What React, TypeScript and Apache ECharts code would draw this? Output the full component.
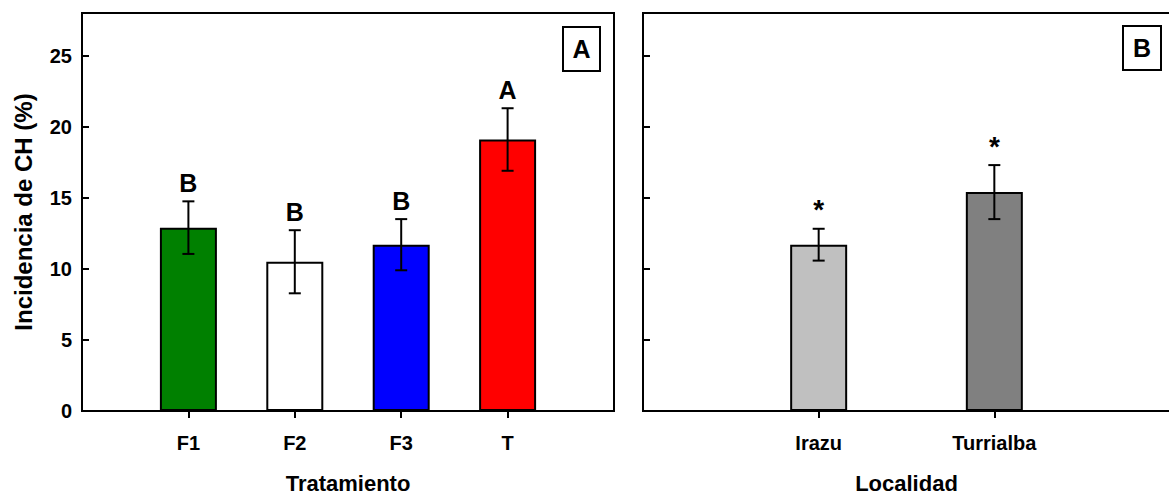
import React, { useEffect, useRef } from "react";
import * as echarts from "echarts";

// Panel A data
const treatments = ["F1", "F2", "F3", "T"];
const treatmentMeans = [12.9, 10.5, 11.7, 19.1];
const treatmentErrors = [1.85, 2.22, 1.8, 2.2];
const treatmentLetters = ["B", "B", "B", "A"];
const treatmentColors = ["#008000", "#ffffff", "#0000ff", "#ff0000"];

// Panel B data
const localities = ["Irazu", "Turrialba"];
const localityMeans = [11.7, 15.4];
const localityErrors = [1.12, 1.9];
const localityLetters = ["*", "*"];
const localityColors = ["#c0c0c0", "#808080"];

const yTicks = [0, 5, 10, 15, 20, 25];
const yMax = 28;

const FONT = "Liberation Sans, Arial, Helvetica, sans-serif";

function padCats(c: string[]) {
  return ["", ...c, ""];
}

function errorSeries(xAxisIndex: number, yAxisIndex: number, means: number[], errs: number[], letters: string[]) {
  return {
    type: "custom",
    xAxisIndex,
    yAxisIndex,
    silent: true,
    z: 5,
    data: means.map((m, i) => [i + 1, m, errs[i]]),
    renderItem: (params: any, api: any) => {
      const x = api.value(0);
      const m = api.value(1);
      const e = api.value(2);
      const letter = letters[params.dataIndex];
      const top = api.coord([x, m + e]);
      const bot = api.coord([x, m - e]);
      const cap = 6;
      const ls = { stroke: "#000", lineWidth: 2 };
      const isStar = letter === "*";
      return {
        type: "group",
        children: [
          { type: "line", shape: { x1: top[0], y1: top[1], x2: bot[0], y2: bot[1] }, style: ls },
          { type: "line", shape: { x1: top[0] - cap, y1: top[1], x2: top[0] + cap, y2: top[1] }, style: ls },
          { type: "line", shape: { x1: bot[0] - cap, y1: bot[1], x2: bot[0] + cap, y2: bot[1] }, style: ls },
          {
            type: "text",
            x: top[0],
            y: top[1] - (isStar ? 19 : 18),
            style: {
              text: letter,
              fill: "#000",
              font: `bold ${isStar ? 28 : 25}px ${FONT}`,
              align: "center",
              verticalAlign: "middle",
            },
          },
        ],
      };
    },
  };
}

export default function App() {
  const ref = useRef<HTMLDivElement>(null);
  useEffect(() => {
    if (!ref.current) return;
    const chart = echarts.init(ref.current, null, { renderer: "svg" });
    const axisLabelStyle = { color: "#000", fontWeight: "bold", fontSize: 20, fontFamily: FONT };
    const nameStyle = { color: "#000", fontWeight: "bold", fontSize: 22, fontFamily: FONT };
    const xAxisBase = (cats: string[], name: string, gridIndex: number) => ({
      type: "category",
      gridIndex,
      data: padCats(cats),
      boundaryGap: false,
      name,
      nameLocation: "middle",
      nameGap: 61,
      nameTextStyle: nameStyle,
      axisLine: { show: true, lineStyle: { color: "#000", width: 2 } },
      axisTick: {
        show: true,
        length: 7,
        inside: false,
        interval: (index: number) => index > 0 && index < cats.length + 1,
        lineStyle: { color: "#000", width: 2 },
      },
      axisLabel: { ...axisLabelStyle, margin: 22, interval: 0 },
      splitLine: { show: false },
    });
    const yAxisBase = (gridIndex: number, showLabels: boolean, name: string) => ({
      type: "value",
      gridIndex,
      min: yTicks[0],
      max: yMax,
      interval: yTicks[1] - yTicks[0],
      name,
      nameLocation: "middle",
      nameGap: 47,
      nameRotate: 90,
      nameTextStyle: { ...nameStyle, fontSize: 24 },
      axisLine: { show: true, lineStyle: { color: "#000", width: 2 } },
      axisTick: { show: true, inside: true, length: 7, lineStyle: { color: "#000", width: 2 } },
      axisLabel: {
        show: showLabels,
        ...axisLabelStyle,
        margin: 10,
        showMaxLabel: false,
        formatter: (v: number) => (yTicks.includes(v) ? String(v) : ""),
      },
      splitLine: { show: false },
    });

    chart.setOption({
      animation: false,
      backgroundColor: "#fff",
      grid: [
        { left: 82, top: 13, width: 532, height: 398, outerBoundsMode: "none", containLabel: false, show: true, borderColor: "#000", borderWidth: 2, backgroundColor: "transparent" },
        { left: 643, top: 13, width: 527, height: 398, outerBoundsMode: "none", containLabel: false, show: true, borderColor: "#000", borderWidth: 2, backgroundColor: "transparent" },
      ],
      xAxis: [xAxisBase(treatments, "Tratamiento", 0), xAxisBase(localities, "Localidad", 1)],
      yAxis: [yAxisBase(0, true, "Incidencia de CH (%)"), yAxisBase(1, false, "")],
      series: [
        {
          type: "bar",
          xAxisIndex: 0,
          yAxisIndex: 0,
          barWidth: 57,
          data: treatmentMeans.map((v, i) => ({
            value: [i + 1, v],
            itemStyle: { color: treatmentColors[i], borderColor: "#000", borderWidth: 2 },
          })),
        },
        errorSeries(0, 0, treatmentMeans, treatmentErrors, treatmentLetters),
        {
          type: "bar",
          xAxisIndex: 1,
          yAxisIndex: 1,
          barWidth: 57,
          data: localityMeans.map((v, i) => ({
            value: [i + 1, v],
            itemStyle: { color: localityColors[i], borderColor: "#000", borderWidth: 2 },
          })),
        },
        errorSeries(1, 1, localityMeans, localityErrors, localityLetters),
      ],
      graphic: [
        { type: "rect", shape: { x: 563, y: 27, width: 37, height: 44 }, style: { fill: "#fff", stroke: "#000", lineWidth: 2 } },
        { type: "text", x: 581.5, y: 49, style: { text: "A", font: `bold 25px ${FONT}`, fill: "#000", align: "center", verticalAlign: "middle" } },
        { type: "rect", shape: { x: 1123, y: 26, width: 38, height: 44 }, style: { fill: "#fff", stroke: "#000", lineWidth: 2 } },
        { type: "text", x: 1142, y: 48, style: { text: "B", font: `bold 25px ${FONT}`, fill: "#000", align: "center", verticalAlign: "middle" } },
      ],
    });
    return () => chart.dispose();
  }, []);
  return (
    <div
      ref={ref}
      style={{ position: "fixed", left: 0, top: 0, width: 1169, height: 495, background: "#fff" }}
    />
  );
}
